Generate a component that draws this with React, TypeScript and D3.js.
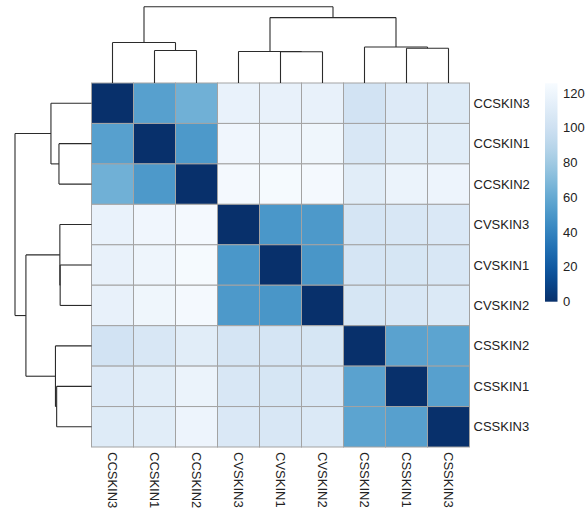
import React from 'react';
import * as d3 from 'd3';

// sample order as drawn (rows and columns share it)
const labels = ['CCSKIN3', 'CCSKIN1', 'CCSKIN2', 'CVSKIN3', 'CVSKIN1', 'CVSKIN2', 'CSSKIN2', 'CSSKIN1', 'CSSKIN3'];

// distance matrix
const distances: number[][] = [
  [0, 55, 64, 117, 116, 116, 102, 109, 110],
  [55, 0, 51, 121, 120, 120.5, 106, 112, 112],
  [64, 51, 0, 124, 124.5, 124, 112, 118, 119],
  [117, 121, 124, 0, 50, 51, 104, 106, 107],
  [116, 120, 124.5, 50, 0, 49.5, 104, 105, 106],
  [116, 120.5, 124, 51, 49.5, 0, 105, 106, 108],
  [102, 106, 112, 104, 104, 105, 0, 56, 57],
  [109, 112, 118, 106, 105, 106, 56, 0, 55],
  [110, 112, 119, 107, 106, 108, 57, 55, 0],
];

// hclust-style merges: negative = leaf (1-based index into labels), positive = earlier merge
const mergePairs: [number, number][] = [
  [-2, -3], [-1, 1], [-5, -6], [-4, 3], [-8, -9], [-7, 5], [4, 6], [2, 7],
];
const mergeHeights = [32.5, 40.5, 31.3, 31.6, 34.8, 36, 65.5, 76.4];

const legendTicks = [0, 20, 40, 60, 80, 100, 120];
const colorMax = 125.6;

const W = 587;
const H = 515;
const grid = { left: 91.5, right: 469.5, top: 83, bottom: 447 };

type Seg = [number, number, number, number];

// builds elbow segments along "pos" axis (leaf positions) and "h" axis (height)
function dendroSegments(pos: (name: string) => number, hScale: d3.ScaleLinear<number, number>): Seg[] {
  const nodes: { p: number; h: number }[] = [];
  const get = (i: number) => (i < 0 ? { p: pos(labels[-i - 1]), h: 0 } : nodes[i - 1]);
  const segs: Seg[] = [];
  mergePairs.forEach(([a, b], k) => {
    const A = get(a);
    const B = get(b);
    const h = mergeHeights[k];
    segs.push([A.p, hScale(A.h), A.p, hScale(h)]);
    segs.push([B.p, hScale(B.h), B.p, hScale(h)]);
    segs.push([A.p, hScale(h), B.p, hScale(h)]);
    nodes.push({ p: (A.p + B.p) / 2, h });
  });
  return segs;
}

const App: React.FC = () => {
  const x = d3.scaleBand<string>().domain(labels).range([grid.left, grid.right]);
  const y = d3.scaleBand<string>().domain(labels).range([grid.top, grid.bottom]);
  const color = (v: number) => d3.interpolateBlues(1 - Math.max(0, Math.min(1, v / colorMax)));

  const topH = d3.scaleLinear().domain([0, 76.4]).range([grid.top, 6.7]);
  const leftH = d3.scaleLinear().domain([0, 76.4]).range([grid.left, 15]);
  const topSegs = dendroSegments(n => (x(n) ?? 0) + x.bandwidth() / 2, topH);
  const leftSegs = dendroSegments(n => (y(n) ?? 0) + y.bandwidth() / 2, leftH);

  const legendY = d3.scaleLinear().domain([0, colorMax]).range([301.7, 83.3]);
  const stops = d3.range(0, 1.0001, 0.05);

  const font = 'Arial, "Liberation Sans", sans-serif';

  return (
    <svg
      width={W}
      height={H}
      style={{ position: 'absolute', left: 0, top: 0, background: '#fff' }}
      fontFamily={font}
    >
      <defs>
        <linearGradient id="lg" x1="0" y1="1" x2="0" y2="0">
          {stops.map(s => (
            <stop key={s} offset={s} stopColor={color(s * colorMax)} />
          ))}
        </linearGradient>
      </defs>

      {/* cells */}
      <g>
        {labels.map((r, i) =>
          labels.map((c, j) => (
            <rect
              key={r + c}
              x={x(c)}
              y={y(r)}
              width={x.bandwidth()}
              height={y.bandwidth()}
              fill={color(distances[i][j])}
              stroke="#a3a3a3"
              strokeWidth={1}
            />
          ))
        )}
      </g>

      {/* dendrograms */}
      <g stroke="#2b2b2b" strokeWidth={1.1} fill="none">
        {topSegs.map((s, i) => (
          <line key={'t' + i} x1={s[0]} y1={s[1]} x2={s[2]} y2={s[3]} />
        ))}
        {leftSegs.map((s, i) => (
          <line key={'l' + i} x1={s[1]} y1={s[0]} x2={s[3]} y2={s[2]} />
        ))}
      </g>

      {/* row labels */}
      <g fontSize={13} fill="#222">
        {labels.map(r => (
          <text key={r} x={grid.right + 4} y={(y(r) ?? 0) + y.bandwidth() / 2} dominantBaseline="central">
            {r}
          </text>
        ))}
      </g>

      {/* column labels */}
      <g fontSize={13} fill="#222">
        {labels.map(c => (
          <text
            key={c}
            transform={`translate(${(x(c) ?? 0) + x.bandwidth() / 2},${grid.bottom + 5}) rotate(90)`}
            dominantBaseline="central"
          >
            {c}
          </text>
        ))}
      </g>

      {/* legend */}
      <rect x={545} y={legendY(colorMax)} width={12.5} height={legendY(0) - legendY(colorMax)} fill="url(#lg)" />
      <g fontSize={13} fill="#222">
        {legendTicks.map(t => (
          <text key={t} x={563} y={legendY(t)} dominantBaseline="central">
            {t}
          </text>
        ))}
      </g>
    </svg>
  );
};

export default App;
